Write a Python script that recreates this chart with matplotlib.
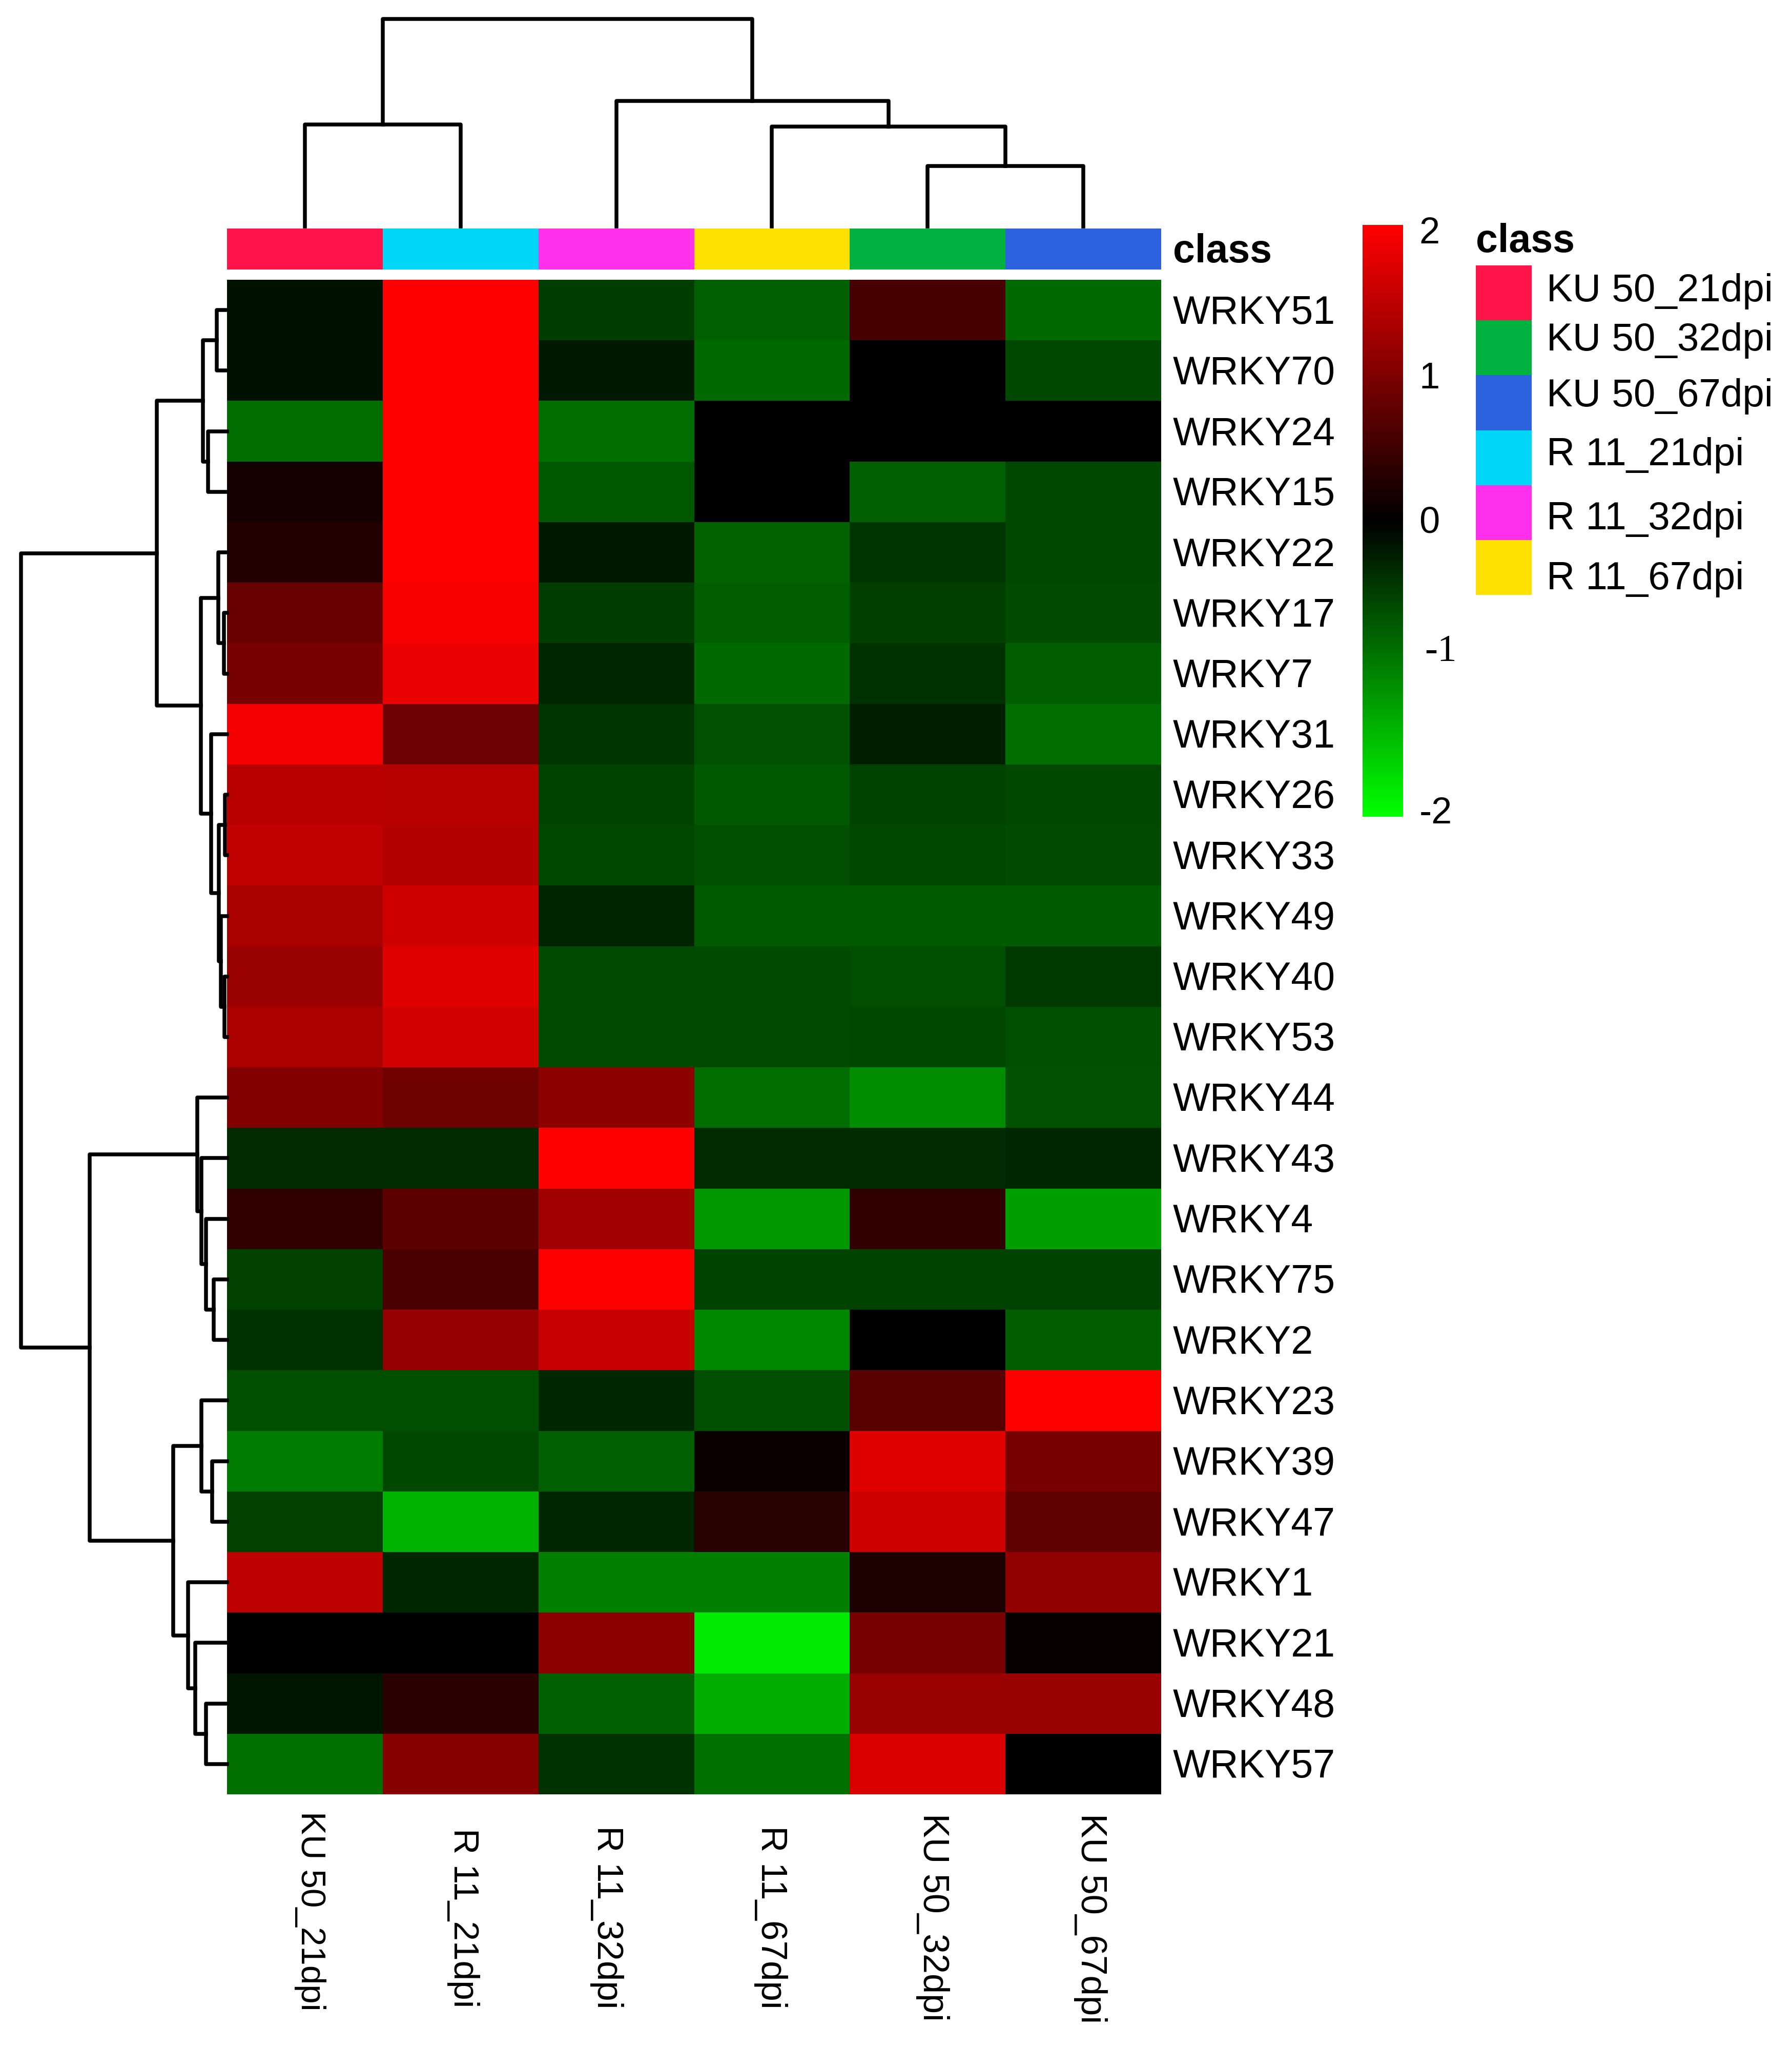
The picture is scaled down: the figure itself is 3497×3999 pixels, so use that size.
#!/usr/bin/env python3
"""Heatmap of WRKY genes with row / column dendrograms and class annotation."""

import numpy as np
import matplotlib
matplotlib.use("Agg")
import matplotlib.pyplot as plt
from matplotlib.colors import LinearSegmentedColormap

W, H = 3497, 3999
plt.rcParams["font.family"] = ["Liberation Sans", "DejaVu Sans"]

genes = ["WRKY51", "WRKY70", "WRKY24", "WRKY15", "WRKY22", "WRKY17", "WRKY7", "WRKY31",
         "WRKY26", "WRKY33", "WRKY49", "WRKY40", "WRKY53", "WRKY44", "WRKY43", "WRKY4",
         "WRKY75", "WRKY2", "WRKY23", "WRKY39", "WRKY47", "WRKY1", "WRKY21", "WRKY48", "WRKY57"]
samples = ["KU 50_21dpi", "R 11_21dpi", "R 11_32dpi", "R 11_67dpi", "KU 50_32dpi", "KU 50_67dpi"]

# z-scores
ku50_21 = [-0.13, -0.13, -0.85, 0.16, 0.27, 0.82, 0.93, 1.92, 1.45, 1.51, 1.32, 1.19, 1.33,
           1.02, -0.33, 0.38, -0.51, -0.38, -0.61, -0.98, -0.51, 1.47, 0.0, -0.16, -0.88]
r11_21 = [2.0, 2.0, 2.0, 2.0, 2.0, 1.95, 1.84, 0.85, 1.43, 1.40, 1.61, 1.76, 1.65,
          0.86, -0.33, 0.72, 0.59, 1.18, -0.61, -0.55, -1.40, -0.30, 0.0, 0.33, 1.06]
r11_32 = [-0.47, -0.20, -0.85, -0.69, -0.20, -0.47, -0.30, -0.41, -0.53, -0.56, -0.27, -0.59, -0.59,
          1.10, 2.0, 1.25, 2.0, 1.55, -0.31, -0.75, -0.31, -1.0, 1.10, -0.75, -0.39]
r11_67 = [-0.75, -0.82, 0.0, 0.0, -0.78, -0.72, -0.82, -0.63, -0.69, -0.61, -0.71, -0.59, -0.59,
          -0.85, -0.33, -1.18, -0.53, -1.06, -0.61, 0.09, 0.31, -1.0, -1.82, -1.35, -0.88]
ku50_32 = [0.56, 0.0, 0.0, -0.75, -0.41, -0.49, -0.38, -0.24, -0.53, -0.55, -0.71, -0.61, -0.56,
           -1.10, -0.33, 0.38, -0.53, 0.0, 0.69, 1.74, 1.61, 0.22, 0.94, 1.19, 1.71]
ku50_67 = [-0.82, -0.56, 0.0, -0.56, -0.56, -0.59, -0.72, -0.86, -0.55, -0.58, -0.71, -0.45, -0.61,
           -0.63, -0.31, -1.25, -0.53, -0.72, 2.0, 0.93, 0.75, 1.14, 0.06, 1.19, 0.0]

# trees are (left, right, height); ints are leaf indices
row_tree = ((((((0, 1, 20), (2, 3, 37), 47),
               ((4, (5, 6, 6), 17),
                (7, ((8, 9, 4), (10, (11, 12, 5), 12), 16), 31), 51), 137)),
             ((13, (14, (15, (16, 17, 26), 41), 50), 58),
              ((18, (19, 20, 29), 50), (21, (22, (23, 24, 41), 62), 76), 105), 268), 402))
col_tree = ((0, 1, 199), (2, (3, (4, 5, 118), 195), 245), 405)

class_names = ["KU 50_21dpi", "KU 50_32dpi", "KU 50_67dpi", "R 11_21dpi", "R 11_32dpi", "R 11_67dpi"]
class_colors = ["#FF1449", "#00B140", "#2C62DD", "#00D7F8", "#FF30EC", "#FFE100"]
legend_text_pos = [0.47, 1.37, 2.38, 3.46, 4.62, 5.72]

cbar_labels = ["2", "1", "0", "-1", "-2"]
cbar_label_pos = [1.94, 0.96, -0.015, -0.885, -1.98]

sample_label_right = [636, 936, 1217, 1537, 1853, 2161]
sample_label_top = [3535, 3568, 3563, 3563, 3539, 3539]
sample_label_size = [48.5, 50, 51, 51, 50.5, 51]

LINE_W = 5.4
TEXT_SIZE = 55.5


def add_ax(fig, x0, y0, x1, y1):
    """Axes from pixel box, y counted from the top."""
    ax = fig.add_axes([x0 / W, 1 - y1 / H, (x1 - x0) / W, (y1 - y0) / H])
    ax.axis("off")
    return ax


def draw_tree(ax, node, vertical):
    """Draw one merge and return (leaf position, height) of this node."""
    if isinstance(node, int):
        return node + 0.5, 0
    p1, h1 = draw_tree(ax, node[0], vertical)
    p2, h2 = draw_tree(ax, node[1], vertical)
    h = node[2]
    pos = [p1, p1, p2, p2]
    hts = [h1, h, h, h2]
    if vertical:
        ax.plot(pos, hts, color="black", lw=LINE_W, clip_on=False, solid_joinstyle="round")
    else:
        ax.plot(hts, pos, color="black", lw=LINE_W, clip_on=False, solid_joinstyle="round")
    return (p1 + p2) / 2, h


def main():
    fig = plt.figure(figsize=(W / 100, H / 100), dpi=100, facecolor="white")
    cmap = LinearSegmentedColormap.from_list("gbr", ["#00FF00", "#000000", "#FF0000"], N=256)

    # heatmap
    ax = add_ax(fig, 443, 546, 2266, 3502)
    values = np.array([ku50_21, r11_21, r11_32, r11_67, ku50_32, ku50_67]).T
    mesh = ax.pcolormesh(values, cmap=cmap, vmin=-2, vmax=2)
    ax.set_xlim(0, len(samples))
    ax.set_ylim(len(genes), 0)
    for i, gene in enumerate(genes):
        ax.text(1.0125 * len(samples), i + 0.55, gene, fontsize=TEXT_SIZE, ha="left", va="center")

    # column class strip
    strip = add_ax(fig, 443, 446, 2266, 526)
    strip.bar(np.arange(6) + 0.5, 1, width=1, color=[class_colors[class_names.index(s)] for s in samples])
    strip.set_xlim(0, 6)
    strip.set_ylim(0, 1)
    strip.text(6.075, 0.43, "class", fontsize=TEXT_SIZE, fontweight="bold", ha="left", va="center")

    # dendrograms
    top = add_ax(fig, 443, 22, 2266, 442)
    top.set_xlim(0, 6)
    top.set_ylim(0, 420)
    draw_tree(top, col_tree, True)

    left = add_ax(fig, 23, 546, 443, 3502)
    left.set_xlim(420, 0)
    left.set_ylim(len(genes), 0)
    draw_tree(left, row_tree, False)

    # sample labels under the heatmap
    for name, x, y, size in zip(samples, sample_label_right, sample_label_top, sample_label_size):
        fig.text(x / W, 1 - y / H, name, fontsize=size, rotation=-90, ha="right", va="top")

    # colour bar
    cax = add_ax(fig, 2659, 439, 2738, 1594)
    cb = fig.colorbar(mesh, cax=cax)
    cb.outline.set_visible(False)
    cax.set_yticks([])
    cax.axis("on")
    for label, pos in zip(cbar_labels, cbar_label_pos):
        if label == "-1":
            cax.text(1.54, pos, label, fontsize=54, family="Liberation Serif", ha="left", va="center")
        else:
            cax.text(1.40, pos, label, fontsize=52, ha="left", va="center")

    # class legend
    leg = add_ax(fig, 2880, 518, 2989, 1161)
    leg.barh(np.arange(6) + 0.5, 1, height=1, color=class_colors)
    leg.set_xlim(0, 1)
    leg.set_ylim(6, 0)
    for name, pos in zip(class_names, legend_text_pos):
        leg.text(1.27, pos, name, fontsize=55, ha="left", va="center")
    leg.text(0.0, -0.43, "class", fontsize=TEXT_SIZE, fontweight="bold", ha="left", va="center")

    fig.savefig("out.png", dpi=100)
    plt.close(fig)


if __name__ == "__main__":
    main()
